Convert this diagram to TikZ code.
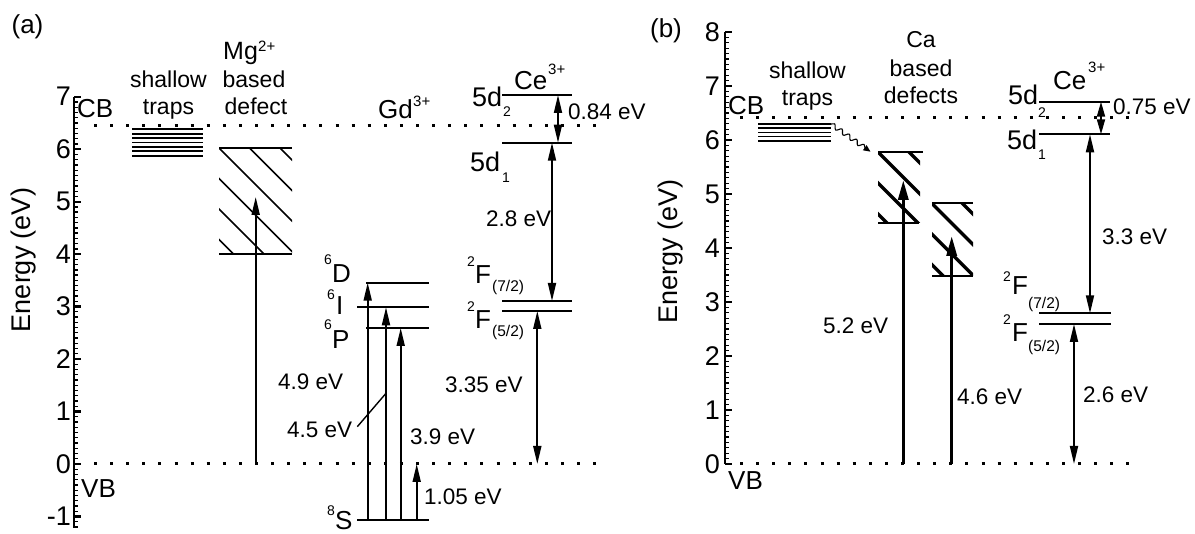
\documentclass[tikz,border=0pt]{standalone}
\usepackage{fontspec}
\setmainfont{Liberation Sans}
\usetikzlibrary{arrows.meta,decorations.pathmorphing}
\begin{document}
\begin{tikzpicture}[x=1pt,y=-1pt,
  every node/.style={inner sep=0pt},
  f27/.style={font=\fontsize{27}{27}\selectfont},
  f26/.style={font=\fontsize{26}{26}\selectfont},
  f25/.style={font=\fontsize{25}{25}\selectfont},
  f23/.style={font=\fontsize{23}{23}\selectfont},
  f22/.style={font=\fontsize{22.5}{22.5}\selectfont},
  f16/.style={font=\fontsize{15.5}{15.5}\selectfont},
  f15/.style={font=\fontsize{15}{15}\selectfont},
  f14/.style={font=\fontsize{14}{14}\selectfont},
  lvl/.style={line width=1.9pt},
  thinline/.style={line width=1.4pt},
  axisline/.style={line width=2.8pt},
  majortick/.style={line width=2.2pt},
  minortick/.style={line width=1.3pt},
  dotline/.style={line width=3pt, dash pattern=on 3pt off 13.1pt},
  hatch/.style={line width=1.7pt},
  thickhatch/.style={line width=3.4pt},
  arr/.style={line width=1.8pt, -{Triangle[length=18pt,width=8pt]}},
  darr/.style={line width=1.8pt, {Triangle[length=18pt,width=8pt]}-{Triangle[length=18pt,width=8pt]}},
  sdarr/.style={line width=1.8pt, {Triangle[length=15pt,width=8pt]}-{Triangle[length=15pt,width=8pt]}},
  thickarr/.style={line width=3.4pt, -{Triangle[length=20pt,width=10pt]}},
  wavy/.style={line width=1.1pt, decorate, decoration={snake,amplitude=2.2pt,segment length=9pt,post length=6pt}, -{Triangle[length=7pt,width=6pt]}}
]
\useasboundingbox (0,0) rectangle (1195,534);

%================ panel (a) ================
\node[f26] (pa) at (27.5,27) {(a)};
\node[f27,rotate=90] (ena) at (24,260) {Energy (eV)};
% axis
\draw[axisline] (74,96.7) -- (74,528);
\foreach \k in {-12,...,70} \draw[minortick] (74,{464-\k*5.247}) -- ++(3.5,0);
\foreach \k [count=\i] in {-1,...,7} {
  \draw[majortick] (74,{464-\k*52.47}) -- ++(7,0);
  \node[f27,anchor=east] (ya\i) at (71,{464-\k*52.47}) {\k};
}
% band edges
\draw[dotline] (94,125.7) -- (603,125.7);
\draw[dotline] (94,464) -- (600,464);
\node[f26,anchor=base west] (cba) at (77,118) {CB};
\node[f26,anchor=base west] (vba) at (81,498) {VB};
% shallow traps
\node[f23,anchor=base] (sha) at (168.5,87.5) {shallow};
\node[f23,anchor=base] (tra) at (168.5,114.3) {traps};
\foreach \i in {0,...,6} \draw[line width=1.7pt] (132,{129.3+\i*4.4}) -- (203,{129.3+\i*4.4});
% Mg defect
\node[f25,anchor=base west] (mg) at (223,59.3) {Mg};
\node[f15,anchor=base west] (mgc) at (258,52) {2+};
\node[f23,anchor=base] (mgb) at (254,87.3) {based};
\node[f23,anchor=base] (mgd) at (256,114.3) {defect};
\draw[lvl] (219,148) -- (292,148);
\draw[lvl] (219,254) -- (292,254);
\begin{scope}
  \clip (219,148) rectangle (292,254);
  \foreach \c in {-132,-101.5,-71,-40.5,-10,20.5} \draw[hatch] (200,{200+\c}) -- (300,{300+\c});
\end{scope}
\coordinate (mgs) at (255.7,464);
\coordinate (mge) at (255.7,197);
\draw[arr] (mgs) -- (mge);
% Gd
\node[f26,anchor=base west] (gd) at (378,118.3) {Gd};
\node[f15,anchor=base west] (gdc) at (413,106.7) {3+};
\draw[lvl] (366,282.7) -- (429,282.7);
\draw[lvl] (357,307.3) -- (429,307.3);
\draw[lvl] (366,328) -- (429,328);
\draw[lvl] (357,520) -- (429,520);
\coordinate (gs1) at (367.7,520); \coordinate (ge1) at (367.7,282.7);
\coordinate (gs2) at (386,520);   \coordinate (ge2) at (386,307.3);
\coordinate (gs3) at (400.7,520); \coordinate (ge3) at (400.7,328);
\coordinate (gs4) at (416.7,520); \coordinate (ge4) at (416.7,464);
\draw[arr] (gs1) -- (ge1);
\draw[arr] (gs2) -- (ge2);
\draw[arr] (gs3) -- (ge3);
\draw[arr] (gs4) -- (ge4);
\node[f14,anchor=base west] (d6s) at (324,265) {6};
\node[f26,anchor=base west] (d6) at (332,282.7) {D};
\node[f14,anchor=base west] (i6s) at (327,300) {6};
\node[f26,anchor=base west] (i6) at (336,315) {I};
\node[f14,anchor=base west] (p6s) at (324,330) {6};
\node[f26,anchor=base west] (p6) at (332,348.3) {P};
\node[f14,anchor=base west] (s8s) at (327,516) {8};
\node[f26,anchor=base west] (s8) at (335,529.5) {S};
\node[f22,anchor=base west] (e49) at (278,390) {4.9 eV};
\node[f22,anchor=base west] (e45) at (287,438) {4.5 eV};
\coordinate (lda) at (357.3,426.7);
\coordinate (ldb) at (386,393.3);
\draw[thinline] (lda) -- (ldb);
\node[f22,anchor=base west] (e39) at (410,445) {3.9 eV};
\node[f22,anchor=base west] (e105) at (424,505) {1.05 eV};
% Ce (a)
\node[f26,anchor=base west] (cea) at (514,90) {Ce};
\node[f15,anchor=base west] (ceac) at (548,75) {3+};
\draw[lvl] (502,95) -- (572,95);
\draw[lvl] (502,142.7) -- (572,142.7);
\draw[lvl] (502,301) -- (572,301);
\draw[lvl] (502,311) -- (572,311);
\node[f27,anchor=base west] (d2a) at (472,106.7) {5d};
\node[f14,anchor=base west] (d2as) at (503,117) {2};
\node[f27,anchor=base west] (d1a) at (470,171.7) {5d};
\node[f14,anchor=base west] (d1as) at (502,183) {1};
\coordinate (ca1) at (558,95);    \coordinate (ca2) at (558,142.7);
\coordinate (ca3) at (552,142.7); \coordinate (ca4) at (552,301);
\coordinate (ca5) at (537.3,311); \coordinate (ca6) at (537.3,464);
\draw[darr] (ca1) -- (ca2);
\draw[darr] (ca3) -- (ca4);
\draw[darr] (ca5) -- (ca6);
\node[f22,anchor=base west] (e084) at (568,119.5) {0.84 eV};
\node[f22,anchor=base west] (e28) at (486,226.7) {2.8 eV};
\node[f22,anchor=base west] (e335) at (445,393) {3.35 eV};
\node[f14,anchor=base west] (f7as) at (467,267) {2};
\node[f26,anchor=base west] (f7a) at (475,283.3) {F};
\node[f16,anchor=base west] (f7ab) at (492,291.7) {(7/2)};
\node[f14,anchor=base west] (f5as) at (467,312) {2};
\node[f26,anchor=base west] (f5a) at (475,328.3) {F};
\node[f16,anchor=base west] (f5ab) at (492,337) {(5/2)};

%================ panel (b) ================
\node[f26] (pb) at (666,31) {(b)};
\node[f27,rotate=90] (enb) at (671,251.5) {Energy (eV)};
\draw[axisline] (725,32) -- (725,464);
\foreach \k in {0,...,80} \draw[minortick] (725,{464-\k*5.4}) -- ++(3.5,0);
\foreach \k in {0,...,8} {
  \draw[majortick] (725,{464-\k*54}) -- ++(7,0);
  \node[f27,anchor=east] (yb\k) at (720,{464-\k*54}) {\k};
}
\draw[dotline] (740,118) -- (1140,118);
\draw[dotline] (740,464) -- (1140,464);
\node[f26,anchor=base west] (cbb) at (728,115) {CB};
\node[f26,anchor=base west] (vbb) at (728,490) {VB};
% shallow traps
\node[f23,anchor=base] (shb) at (807.5,79) {shallow};
\node[f23,anchor=base] (trb) at (807.5,106) {traps};
\foreach \i in {0,...,4} \draw[line width=1.7pt] (758,{124+\i*4.2}) -- (831,{124+\i*4.2});
\coordinate (wva) at (831,124);
\coordinate (wvb) at (870.5,151.7);
\draw[wavy] (wva) -- (wvb);
% Ca defects
\node[f23,anchor=base] (ca) at (921,48) {Ca};
\node[f23,anchor=base] (cab) at (921,77) {based};
\node[f23,anchor=base] (cad) at (921,104) {defects};
\draw[line width=2.2pt] (878,151.7) -- (923,151.7);
\draw[line width=2.2pt] (878,223) -- (919,223);
\begin{scope}
  \clip (878,151.7) rectangle (920,223);
  \foreach \c in {-757,-726,-695,-664} \draw[thickhatch] (850,{850+\c}) -- (950,{950+\c});
\end{scope}
\draw[line width=2.2pt] (932,203.3) -- (973,203.3);
\draw[line width=2.2pt] (932,275.7) -- (973,275.7);
\begin{scope}
  \clip (932,203.3) rectangle (973,275.7);
  \foreach \c in {-759,-728.4,-697.8,-667.2} \draw[thickhatch] (900,{900+\c}) -- (1000,{1000+\c});
\end{scope}
\coordinate (ta1) at (903.3,464); \coordinate (tb1) at (903.3,180);
\coordinate (ta2) at (951.7,464); \coordinate (tb2) at (951.7,236);
\draw[thickarr] (ta1) -- (tb1);
\draw[thickarr] (ta2) -- (tb2);
\node[f22,anchor=base west] (e52) at (823,334) {5.2 eV};
\node[f22,anchor=base west] (e46) at (957,405) {4.6 eV};
% Ce (b)
\node[f26,anchor=base west] (ceb) at (1053,90) {Ce};
\node[f15,anchor=base west] (cebc) at (1088,73) {3+};
\draw[lvl] (1039,101.7) -- (1110,101.7);
\draw[lvl] (1039,134.3) -- (1110,134.3);
\draw[lvl] (1039,313.3) -- (1111,313.3);
\draw[lvl] (1039,324) -- (1111,324);
\node[f27,anchor=base west] (d2b) at (1008,105) {5d};
\node[f14,anchor=base west] (d2bs) at (1038,118) {2};
\node[f27,anchor=base west] (d1b) at (1007,150) {5d};
\node[f14,anchor=base west] (d1bs) at (1038,160) {1};
\coordinate (cb1) at (1101,101.7); \coordinate (cb2) at (1101,134.3);
\coordinate (cb3) at (1090,134.3); \coordinate (cb4) at (1090,313.3);
\coordinate (cb5) at (1074,324);   \coordinate (cb6) at (1074,464);
\draw[sdarr] (cb1) -- (cb2);
\draw[darr] (cb3) -- (cb4);
\draw[darr] (cb5) -- (cb6);
\node[f22,anchor=base west] (e075) at (1113,115) {0.75 eV};
\node[f22,anchor=base west] (e33) at (1102,245) {3.3 eV};
\node[f22,anchor=base west] (e26) at (1083,403) {2.6 eV};
\node[f14,anchor=base west] (f7bs) at (1003,282) {2};
\node[f26,anchor=base west] (f7b) at (1012,295) {F};
\node[f16,anchor=base west] (f7bb) at (1028,309) {(7/2)};
\node[f14,anchor=base west] (f5bs) at (1003,325) {2};
\node[f26,anchor=base west] (f5b) at (1012,341.7) {F};
\node[f16,anchor=base west] (f5bb) at (1028,352) {(5/2)};
\end{tikzpicture}
\end{document}
